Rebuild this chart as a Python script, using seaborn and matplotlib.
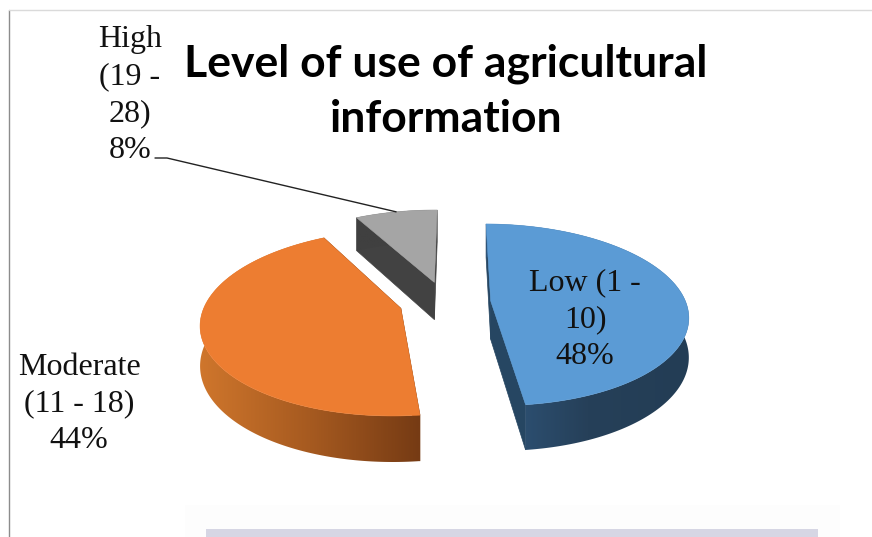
import numpy as np
import matplotlib
matplotlib.use("Agg")
import matplotlib.pyplot as plt
from matplotlib.patches import Polygon, Rectangle
import seaborn as sns

# ---- data ----
categories = ["Low (1 -\n10)", "Moderate\n(11 - 18)", "High\n(19 -\n28)"]
shares = [48, 44, 8]
percent_labels = ["48%", "44%", "8%"]
title_text = "Level of use of agricultural\ninformation"

# ---- style ----
top_colors = ["#5B9BD5", "#ED7D31", "#A5A5A5"]
side_stops = [["#2F567C", "#264059", "#233D55"],
              ["#CF762C", "#A65A20", "#763B14"],
              ["#404040", "#404040", "#404040"]]
cut_colors = ["#264662", "#763B14", "#424242"]
label_xy = [(585, 320), (79, 404), (130, 95)]

sns.set_theme(style="white")
plt.rcParams["font.family"] = ["Liberation Serif", "DejaVu Serif"]

fig = plt.figure(figsize=(8.72, 5.37), dpi=100, facecolor="white")
ax = fig.add_axes([0, 0, 1, 1])
ax.axis("off")

# ---- projection of a tilted pie ----
CX, CY, RX, RY, K, DEPTH = 445, 302, 195, 89, 0.153, 38.5
EXPLODE, START = 0.235, 0.5


def project(u, v, z=0.0):
    w = 1.0 / (1.0 - K * v)
    return CX + RX * u * w, CY + (RY * v + z) * w


fractions = np.array(shares, dtype=float) / np.sum(shares)
edges = START + 360 * np.concatenate([[0], np.cumsum(fractions)])

for i, frac in enumerate(fractions):
    a0, a1 = edges[i], edges[i + 1]
    mid = np.radians((a0 + a1) / 2)
    ex, ey = EXPLODE * np.sin(mid), -EXPLODE * np.cos(mid)
    th = np.radians(np.linspace(a0, a1, 200))
    us = ex + np.sin(th)
    vs = ey - np.cos(th)

    # straight cut faces
    for uu, vv in ((us[0], vs[0]), (us[-1], vs[-1])):
        quad = [project(ex, ey), project(uu, vv), project(uu, vv, DEPTH), project(ex, ey, DEPTH)]
        ax.add_patch(Polygon(quad, closed=True, fc=cut_colors[i], ec=cut_colors[i], lw=0.5, zorder=2))

    # curved outer wall, shaded left to right with a clipped gradient
    upper = [project(a, b) for a, b in zip(us, vs)]
    lower = [project(a, b, DEPTH) for a, b in zip(us, vs)]
    wall = Polygon(upper + lower[::-1], closed=True, fc="none", ec="none", transform=ax.transData)
    ax.add_patch(wall)
    xs = [p[0] for p in upper]
    ys = [p[1] for p in upper + lower]
    ramp = np.array(sns.blend_palette(side_stops[i], n_colors=256))[None, :, :3]
    img = ax.imshow(ramp, extent=(min(xs), max(xs), max(ys), min(ys)), aspect="auto",
                    interpolation="bilinear", zorder=3)
    img.set_clip_path(wall)

    # top surface
    top = [project(ex, ey)] + upper
    ax.add_patch(Polygon(top, closed=True, fc=top_colors[i], ec=top_colors[i], lw=0.4, zorder=4))

    if i == 2:
        leader_end = project(ex + np.sin(mid), ey - np.cos(mid))

    ax.text(label_xy[i][0], label_xy[i][1], f"{categories[i]}\n{percent_labels[i]}",
            ha="center", va="center", fontsize=23, color="#111111",
            linespacing=1.36, zorder=6)

# ---- leader line ----
ax.plot([155, 167, leader_end[0]], [158, 158, leader_end[1]], color="#222222", lw=1.0, zorder=5)

# ---- title ----
ax.text(446, 91, title_text, ha="center", va="center", fontsize=32, fontweight="bold",
        family=["Lato", "DejaVu Sans"], color="black", linespacing=1.46, zorder=6)

# ---- frame of the screenshot ----
ax.plot([9, 9], [10, 537], color="#8C8C8C", lw=1.0, zorder=1)
ax.plot([9, 872], [10, 10], color="#DADADA", lw=1.0, zorder=1)
ax.add_patch(Rectangle((185, 505), 655, 32, fc="#FDFDFD", ec="none", zorder=1))
ax.add_patch(Rectangle((206, 529), 612, 8, fc="#D6D6E4", ec="none", zorder=1))

ax.set_xlim(0, 872)
ax.set_ylim(537, 0)

fig.savefig("out.png", dpi=100, facecolor="white")
